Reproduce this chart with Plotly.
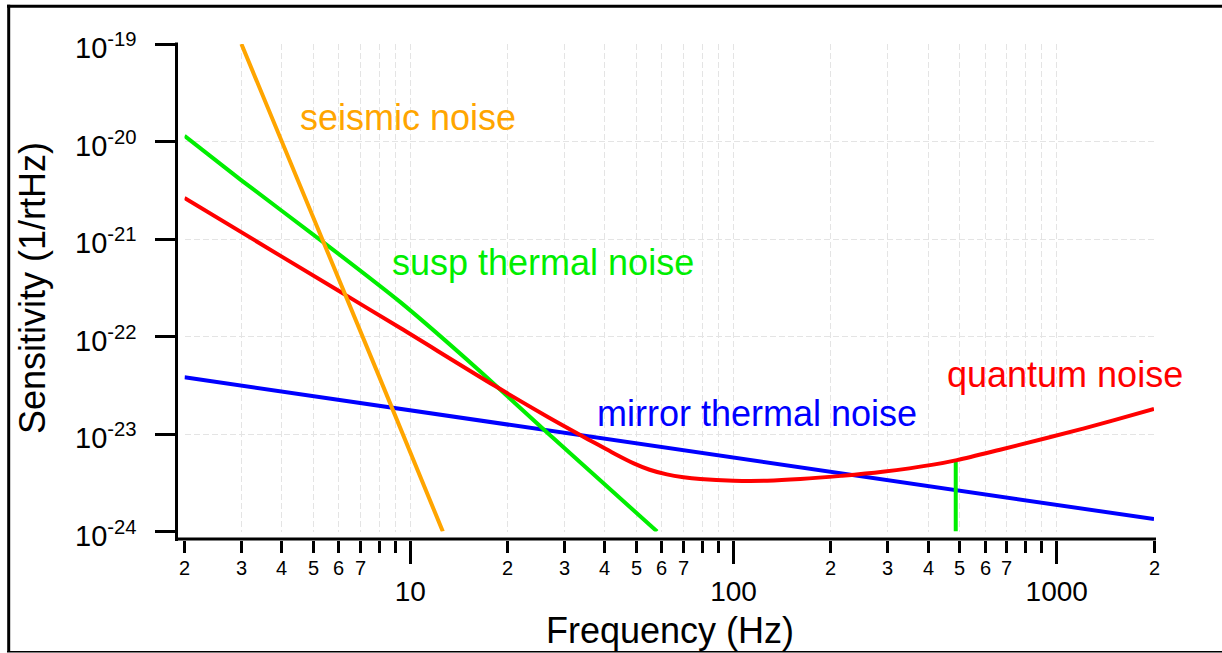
import numpy as np
import plotly.graph_objects as go

# ---- noise curves (frequency in Hz, amplitude spectral density in 1/rtHz) ----
seismic_freq = [3.0, 5.0, 8.0, 12.6]
seismic_asd = [1.0e-19, 1.7e-21, 3.9e-23, 1.0e-24]

susp_freq = [2.0, 3.0, 5.37, 9.31, 16.1, 26.8, 58.0]
susp_asd = [1.14e-20, 4.0e-21, 9.3e-22, 2.25e-22, 4.67e-23, 1.0e-23, 1.0e-24]

violin_freq = [487.0, 487.0]
violin_asd = [1.0e-24, 5.2e-24]

mirror_freq = [2.0, 20.0, 200.0, 2000.0]
mirror_asd = [3.82e-23, 1.25e-23, 4.1e-24, 1.34e-24]

quantum_freq = [2.0, 4.0, 6.33, 9.31, 18.3, 26.8, 36.0, 42.0, 49.1, 55.0, 62.2, 70.0,
                78.9, 100.0, 127.0, 161.0, 215.0, 289.0, 415.0, 491.0, 668.0, 931.0,
                1200.0, 1497.0, 2000.0]
quantum_asd = [2.64e-21, 6.6e-22, 2.64e-22, 1.22e-22, 3.1e-23, 1.48e-23, 8.6e-24,
               6.5e-24, 5.0e-24, 4.3e-24, 3.85e-24, 3.6e-24, 3.45e-24, 3.32e-24,
               3.32e-24, 3.45e-24, 3.72e-24, 4.1e-24, 4.85e-24, 5.4e-24, 6.9e-24,
               9.1e-24, 1.13e-23, 1.38e-23, 1.81e-23]

# ---- axis ticks ----
x_major_vals = [10, 100, 1000]
x_major_text = ["10", "100", "1000"]
x_minor_vals = [2, 3, 4, 5, 6, 7, 8, 9,
                20, 30, 40, 50, 60, 70, 80, 90,
                200, 300, 400, 500, 600, 700, 800, 900, 2000]
x_minor_labelled = [2, 3, 4, 5, 6, 7, 20, 30, 40, 50, 60, 70,
                    200, 300, 400, 500, 600, 700, 2000]
x_minor_text = ["2", "3", "4", "5", "6", "7", "2", "3", "4", "5", "6", "7",
                "2", "3", "4", "5", "6", "7", "2"]
y_vals = [1e-19, 1e-20, 1e-21, 1e-22, 1e-23, 1e-24]
y_text = ["10<sup>-19</sup>", "10<sup>-20</sup>", "10<sup>-21</sup>",
          "10<sup>-22</sup>", "10<sup>-23</sup>", "10<sup>-24</sup>"]

ORANGE = "#ffa500"
GREEN = "#00ee00"
RED = "#ff0000"
BLUE = "#0000ff"
GRID = "#e4e4e4"
FONT = "Liberation Sans, Arial, Helvetica, sans-serif"

W, H = 1222, 653
L, R, T, B = 177, 68, 44, 113
PW, PH = W - L - R, H - T - B


def px(x):
    """pixel column -> paper x"""
    return (x - L) / PW


def py(y):
    """pixel row -> paper y"""
    return (H - B - y) / PH


fig = go.Figure()
fig.add_trace(go.Scatter(x=mirror_freq, y=mirror_asd, mode="lines",
                         line=dict(color=BLUE, width=4)))
fig.add_trace(go.Scatter(x=susp_freq, y=susp_asd, mode="lines",
                         line=dict(color=GREEN, width=4, shape="spline", smoothing=0.6)))
fig.add_trace(go.Scatter(x=violin_freq, y=violin_asd, mode="lines",
                         line=dict(color=GREEN, width=4)))
fig.add_trace(go.Scatter(x=quantum_freq, y=quantum_asd, mode="lines",
                         line=dict(color=RED, width=4, shape="spline", smoothing=1.0)))
fig.add_trace(go.Scatter(x=seismic_freq, y=seismic_asd, mode="lines",
                         line=dict(color=ORANGE, width=4)))

grid_kw = dict(showgrid=True, gridcolor=GRID, gridwidth=1, griddash="6px,3px")

fig.update_xaxes(
    type="log", range=[np.log10(2), np.log10(2000)],
    domain=[px(184.5), 1], anchor="free", position=0,
    showline=False, zeroline=False,
    ticks="outside", ticklen=23, tickwidth=3, tickcolor="black",
    tickmode="array", tickvals=x_major_vals, ticktext=x_major_text,
    tickfont=dict(family=FONT, size=28, color="black"),
    ticklabelstandoff=3,
    minor=dict(tickmode="array", tickvals=x_minor_vals, ticks="outside",
               ticklen=12, tickwidth=3, tickcolor="black", **grid_kw),
    **grid_kw,
)
fig.update_yaxes(
    type="log", range=[-24, -19],
    domain=[py(531.5), 1], anchor="free", position=0,
    showline=False, zeroline=False,
    ticks="outside", ticklen=22, tickwidth=3, tickcolor="black",
    tickmode="array", tickvals=y_vals, showticklabels=False,
    **grid_kw,
)

shapes = [
    # axis lines
    dict(type="line", xref="paper", yref="paper",
         x0=px(176.5), x1=px(176.5), y0=py(541), y1=py(42.5),
         line=dict(color="black", width=3)),
    dict(type="line", xref="paper", yref="paper",
         x0=px(175), x1=px(1156), y0=py(539), y1=py(539),
         line=dict(color="black", width=3)),
    # outer frame
    dict(type="line", xref="paper", yref="paper",
         x0=px(7), x1=px(1222), y0=py(6.2), y1=py(6.2),
         line=dict(color="black", width=3)),
    dict(type="line", xref="paper", yref="paper",
         x0=px(8.7), x1=px(8.7), y0=py(4.8), y1=py(652),
         line=dict(color="black", width=3)),
    dict(type="line", xref="paper", yref="paper",
         x0=px(7), x1=px(1222), y0=py(651.7), y1=py(651.7),
         line=dict(color="black", width=1.5)),
]

annotations = []
# decade labels on the sensitivity axis
for v, t in zip(y_vals, y_text):
    annotations.append(dict(x=px(139), y=np.log10(v), xref="paper", yref="y",
                            text=t, showarrow=False, xanchor="right", yanchor="middle",
                            yshift=-2,
                            font=dict(family=FONT, size=29, color="black")))

# minor-decade tick labels
for v, t in zip(x_minor_labelled, x_minor_text):
    annotations.append(dict(x=np.log10(v), y=py(568), xref="x", yref="paper",
                            text=t, showarrow=False, xanchor="center", yanchor="middle",
                            font=dict(family=FONT, size=20, color="black")))

# curve labels
curve_labels = [
    ("seismic noise", 298, 117, ORANGE),
    ("susp thermal noise", 390, 262, GREEN),
    ("mirror thermal noise", 595, 413, BLUE),
    ("quantum noise", 945, 374, RED),
]
for text, lx, ly, col in curve_labels:
    annotations.append(dict(x=px(lx), y=py(ly), xref="paper", yref="paper",
                            text=text, showarrow=False, xanchor="left", yanchor="middle",
                            font=dict(family=FONT, size=36, color=col)))

# axis titles
annotations.append(dict(x=px(670), y=py(630), xref="paper", yref="paper",
                        text="Frequency (Hz)", showarrow=False,
                        xanchor="center", yanchor="middle",
                        font=dict(family=FONT, size=36, color="black")))
annotations.append(dict(x=px(32), y=py(288), xref="paper", yref="paper",
                        text="Sensitivity (1/rtHz)", showarrow=False, textangle=-90,
                        xanchor="center", yanchor="middle",
                        font=dict(family=FONT, size=36, color="black")))

fig.update_layout(
    width=W, height=H,
    margin=dict(l=L, r=R, t=T, b=B, pad=0),
    paper_bgcolor="white", plot_bgcolor="white",
    showlegend=False,
    font=dict(family=FONT, color="black"),
    shapes=shapes,
    annotations=annotations,
)

fig.write_html("out.html")
